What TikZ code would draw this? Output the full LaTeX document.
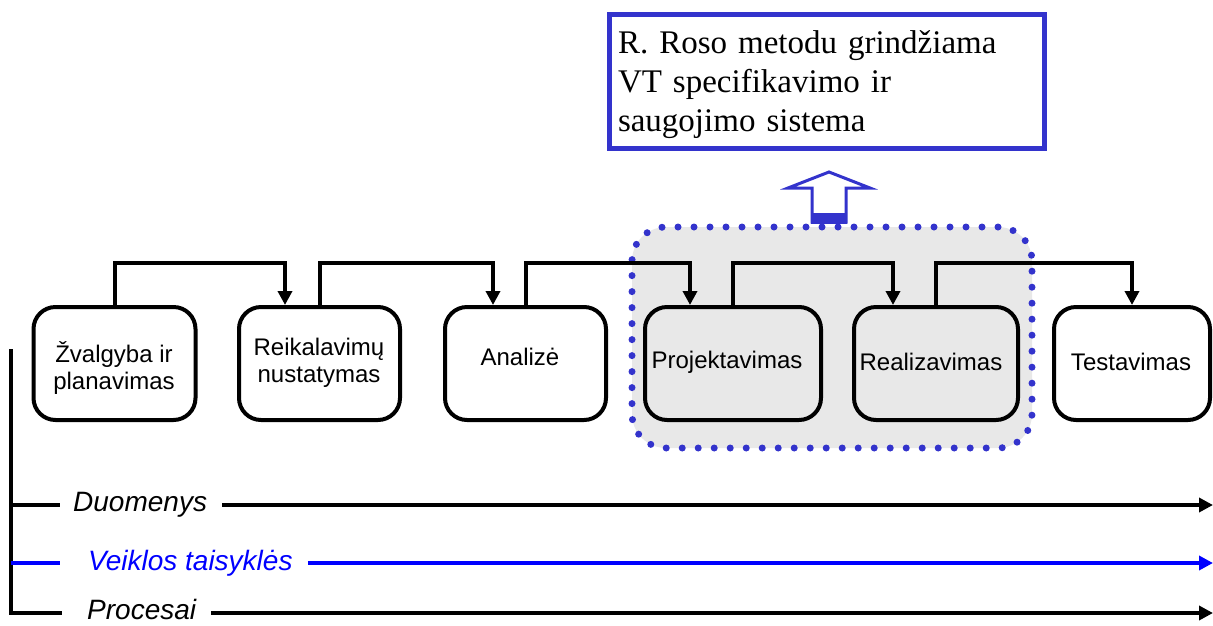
\documentclass[tikz,border=0pt]{standalone}
\usepackage{fontspec}
\setmainfont{Liberation Serif}
\setsansfont{Liberation Sans}
\usetikzlibrary{arrows.meta}
\definecolor{vtblue}{RGB}{51,51,204}
\definecolor{ruleblue}{RGB}{0,0,255}
\definecolor{boxgray}{RGB}{232,232,232}
\begin{document}
\begin{tikzpicture}[x=1pt,y=-1pt,
  stagebox/.style={draw=black, line width=4pt, rounded corners=22pt, minimum height=113pt, inner sep=0pt, fill=white},
  stagetext/.style={font=\sffamily\fontsize{24}{27}\selectfont, align=center, inner sep=0pt},
  flow/.style={draw=black, line width=4pt, -{Triangle[length=14pt,width=14pt]}},
  track/.style={line width=4.5pt, -{Triangle[length=14pt,width=14pt]}},
  tracklabel/.style={font=\sffamily\itshape\fontsize{28}{30}\selectfont, inner sep=0pt, anchor=west},
]
\useasboundingbox (0,0) rectangle (1213,625);

% system box on top
\node[draw=vtblue, line width=5pt, minimum width=435pt, minimum height=134pt] (sys) at (827,81.5) {};
\node[text width=405pt, align=left, inner sep=0pt,
      font=\rmfamily\fontsize{33}{39}\selectfont] (systext) at (820.5,85)
  {R. Roso metodu grindžiama\\VT specifikavimo ir\\saugojimo sistema};

% highlighted group of stages
\node[draw=vtblue, fill=boxgray, line width=7pt, dash pattern=on 0pt off 16pt,
      line cap=round, rounded corners=34pt, minimum width=400pt, minimum height=221pt]
  (grp) at (832,337.5) {};

% hollow arrow from the group up to the system
\draw[draw=vtblue, fill=white, line width=3pt, line join=miter]
  (812,222) -- (812,188) -- (788,188) -- (829,172) -- (870,188) -- (846,188) -- (846,222) -- cycle;
\fill[vtblue] (811,213) rectangle (847,224);

% stages
\node[stagebox, minimum width=162pt] (b1) at (114.5,363.5) {};
\node[stagebox, minimum width=161pt] (b2) at (319.5,363.5) {};
\node[stagebox, minimum width=161pt] (b3) at (525.5,363.5) {};
\node[stagebox, minimum width=176pt, fill=boxgray] (b4) at (733,363.5) {};
\node[stagebox, minimum width=164pt, fill=boxgray] (b5) at (936,363.5) {};
\node[stagebox, minimum width=156pt] (b6) at (1132,363.5) {};

\node[stagetext] (t1) at (114,368) {Žvalgyba ir\\planavimas};
\node[stagetext] (t2) at (319,363) {Reikalavimų\\nustatymas};
\node[stagetext] (t3) at (520,357) {Analizė};
\node[stagetext] (t4) at (727,362) {Projektavimas};
\node[stagetext] (t5) at (931,362) {Realizavimas};
\node[stagetext] (t6) at (1131,362) {Testavimas};

% flow between stages
\draw[flow] (b1.north) -- ++(0,-42) -| ([xshift=-34.5pt]b2.north);
\draw[flow] (b2.north) -- ++(0,-42) -| ([xshift=-32.5pt]b3.north);
\draw[flow] (b3.north) -- ++(0,-42) -| ([xshift=-43pt]b4.north);
\draw[flow] (b4.north) -- ++(0,-42) -| ([xshift=-43pt]b5.north);
\draw[flow] (b5.north) -- ++(0,-42) -| (b6.north);

% tracks along the life cycle
\coordinate (vtop) at (11,349);
\coordinate (vbot) at (11,615);
\draw[line width=4pt] (vtop) -- (vbot);

\node[tracklabel] (dl) at (73,505) {Duomenys};
\node[tracklabel, text=ruleblue] (vl) at (88,563) {Veiklos taisyklės};
\node[tracklabel] (pl) at (87,609) {Procesai};

\coordinate (d0) at (11,505);
\coordinate (d1) at (1213,505);
\coordinate (v0) at (11,563);
\coordinate (v1) at (1213,563);
\coordinate (p0) at (9,613);
\coordinate (p1) at (1213,613);

\draw[line width=4.5pt] (d0) -- ++(49,0);
\draw[line width=4.5pt, ruleblue] (v0) -- ++(49,0);
\draw[line width=4.5pt] (p0) -- ++(53,0);

\draw[track] ([xshift=15pt]dl.east) -- (d1);
\draw[track, ruleblue] ([xshift=15pt]vl.east) -- (v1);
\draw[track] (pl.east |- p1) ++(15,0) -- (p1);
\end{tikzpicture}
\end{document}
